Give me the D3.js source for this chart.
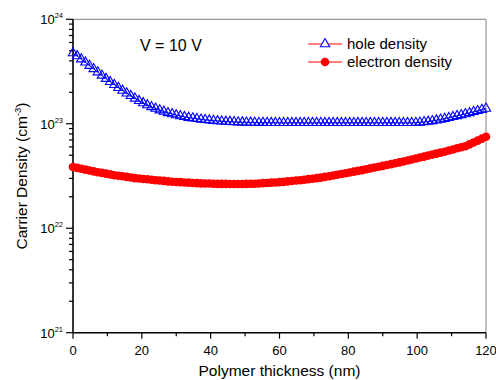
<!DOCTYPE html>
<html><head><meta charset="utf-8">
<script src="https://cdn.jsdelivr.net/npm/d3@7"></script>
<style>body{margin:0;background:#fff}svg{display:block}text{font-family:"Liberation Sans",Arial,sans-serif}</style>
</head><body>
<svg id="c" width="496" height="380"></svg>
<script>
const xStep = 1.2;
const holeDensity = [ // x 1e23 cm^-3
4.75,4.45,4.15,3.87,3.6,3.35,3.12,2.9,2.7,2.52,
2.36,2.21,2.08,1.96,1.85,1.75,1.66,1.58,1.51,1.45,
1.40,1.35,1.31,1.27,1.24,1.21,1.185,1.165,1.145,1.13,
1.115,1.10,1.09,1.08,1.07,1.062,1.055,1.05,1.045,1.04,
1.036,1.033,1.03,1.028,1.026,1.025,1.024,1.023,1.022,1.021,
1.02,1.02,1.02,1.02,1.02,1.02,1.02,1.02,1.02,1.02,
1.02,1.02,1.02,1.02,1.02,1.02,1.02,1.02,1.02,1.02,
1.02,1.02,1.02,1.02,1.02,1.02,1.02,1.02,1.02,1.02,
1.02,1.02,1.02,1.025,1.03,1.04,1.05,1.065,1.08,1.10,
1.12,1.14,1.165,1.19,1.215,1.24,1.27,1.30,1.33,1.365,
1.40];
const electronDensity = [ // x 1e22 cm^-3
3.85,3.78,3.71,3.64,3.57,3.5,3.44,3.39,3.33,3.28,
3.22,3.18,3.14,3.10,3.06,3.02,2.99,2.96,2.94,2.91,
2.88,2.86,2.84,2.81,2.79,2.77,2.76,2.74,2.73,2.71,
2.70,2.69,2.68,2.68,2.67,2.66,2.66,2.66,2.65,2.65,
2.65,2.65,2.66,2.67,2.67,2.68,2.70,2.71,2.73,2.74,
2.76,2.78,2.81,2.83,2.86,2.88,2.91,2.95,2.98,3.02,
3.05,3.10,3.15,3.20,3.25,3.30,3.36,3.42,3.48,3.54,
3.60,3.67,3.74,3.81,3.88,3.95,4.03,4.11,4.19,4.27,
4.35,4.45,4.55,4.65,4.75,4.85,4.96,5.07,5.18,5.29,
5.40,5.54,5.68,5.82,5.96,6.10,6.35,6.62,6.90,7.2,
7.5];
const xTicks = [0,20,40,60,80,100,120];
const xMinorTicks = [10,30,50,70,90,110];
const yExponents = [21,22,23,24];
const seriesNames = ["hole density","electron density"];
const annotation = "V = 10 V";

const svg = d3.select("#c");
const L=73, R=486, T=19.3, B=332.7;
const x = d3.scaleLinear().domain([0,120]).range([L,R]);
const y = d3.scaleLog().domain([1e21,1e24]).range([B,T]);

const holes = holeDensity.map((v,i)=>({x:i*xStep, y:v*1e23}));
const elecs = electronDensity.map((v,i)=>({x:i*xStep, y:v*1e22}));

// frame top/right
svg.append("line").attr("x1",L).attr("x2",R).attr("y1",T).attr("y2",T).attr("stroke","#999").attr("stroke-width",1.2);
svg.append("line").attr("x1",R).attr("x2",R).attr("y1",T).attr("y2",B).attr("stroke","#999").attr("stroke-width",1.2);

// y axis ticks
const minorY=[];
for(let e=21;e<24;e++) for(let m=2;m<=9;m++) minorY.push(m*Math.pow(10,e));
const gy = svg.append("g");
gy.selectAll(".mi").data(minorY).join("line").attr("x1",L).attr("x2",L-4).attr("y1",d=>y(d)).attr("y2",d=>y(d)).attr("stroke","#000").attr("stroke-width",1.2);
gy.selectAll(".ma").data(yExponents).join("line").attr("x1",L).attr("x2",L-7).attr("y1",d=>y(Math.pow(10,d))).attr("y2",d=>y(Math.pow(10,d))).attr("stroke","#000").attr("stroke-width",1.2);
const yl = gy.selectAll(".lab").data(yExponents).join("text").attr("x",L-10).attr("y",d=>y(Math.pow(10,d))+5).attr("text-anchor","end").attr("font-size",13).attr("fill","#000");
yl.append("tspan").text("10");
yl.append("tspan").attr("dy",-6).attr("font-size",7.5).text(d=>d);

// x axis ticks
const gx = svg.append("g");
gx.selectAll(".ma").data(xTicks).join("line").attr("x1",d=>x(d)).attr("x2",d=>x(d)).attr("y1",B).attr("y2",B+6).attr("stroke","#000").attr("stroke-width",1.2);
gx.selectAll(".mi").data(xMinorTicks).join("line").attr("x1",d=>x(d)).attr("x2",d=>x(d)).attr("y1",B).attr("y2",B+3.5).attr("stroke","#000").attr("stroke-width",1.2);
gx.selectAll("text").data(xTicks).join("text").attr("x",d=>x(d)).attr("y",B+22).attr("text-anchor","middle").attr("font-size",13).text(d=>d);

// axes lines
svg.append("line").attr("x1",L).attr("x2",L).attr("y1",T).attr("y2",B).attr("stroke","#000").attr("stroke-width",1.6);
svg.append("line").attr("x1",L).attr("x2",R).attr("y1",B).attr("y2",B).attr("stroke","#000").attr("stroke-width",1.6);

// titles
svg.append("text").attr("x",(L+R)/2).attr("y",376).attr("text-anchor","middle").attr("font-size",15.5).text("Polymer thickness (nm)");
const yt = svg.append("text").attr("transform",`translate(27,${(T+B)/2}) rotate(-90)`).attr("text-anchor","middle").attr("font-size",15.5);
yt.append("tspan").text("Carrier Density (cm");
yt.append("tspan").attr("dy",-6).attr("font-size",9.5).text("-3");
yt.append("tspan").attr("dy",6).text(")");

// series
const tri = d3.symbol().type(d3.symbolTriangle).size(38);
const line = d3.line().x(d=>x(d.x)).y(d=>y(d.y));
svg.append("path").datum(elecs).attr("d",line).attr("fill","none").attr("stroke","#ff0000").attr("stroke-width",1);
svg.append("g").selectAll("circle").data(elecs).join("circle").attr("cx",d=>x(d.x)).attr("cy",d=>y(d.y)).attr("r",4.3).attr("fill","#ff0000");
svg.append("path").datum(holes).attr("d",line).attr("fill","none").attr("stroke","#0000ff").attr("stroke-width",1);
svg.append("g").selectAll("path").data(holes).join("path").attr("d",tri).attr("transform",d=>`translate(${x(d.x)},${y(d.y)})`).attr("fill","none").attr("stroke","#0000ff").attr("stroke-width",1.1);

// annotation
svg.append("text").attr("x",140).attr("y",51).attr("font-size",16).text(annotation);

// legend
const lg = svg.append("g");
[44,62].forEach((ly,i)=>{
  lg.append("line").attr("x1",308).attr("x2",342).attr("y1",ly).attr("y2",ly).attr("stroke","#ff0000").attr("stroke-width",1);
  if(i===0) lg.append("path").attr("d",tri).attr("transform",`translate(325,${ly})`).attr("fill","#fff").attr("stroke","#0000ff").attr("stroke-width",1.1);
  else lg.append("circle").attr("cx",325).attr("cy",ly).attr("r",4.3).attr("fill","#ff0000");
  lg.append("text").attr("x",347).attr("y",ly+5).attr("font-size",15).text(seriesNames[i]);
});
</script>
</body></html>
